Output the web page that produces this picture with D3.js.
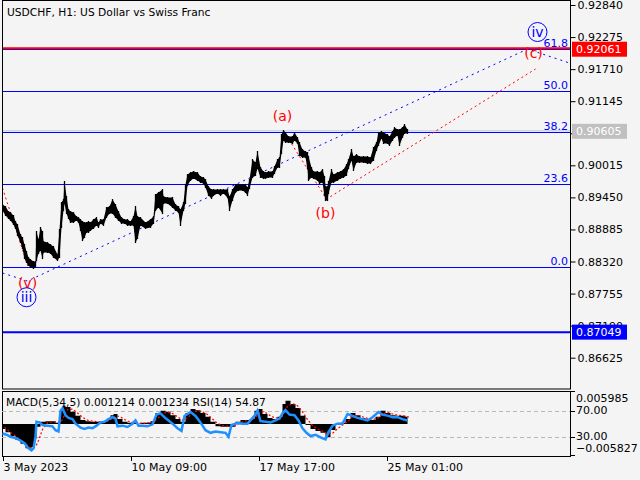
<!DOCTYPE html>
<html><head><meta charset="utf-8">
<script src="https://cdn.jsdelivr.net/npm/d3@7"></script>
<style>
html,body{margin:0;padding:0;background:#f4f4f4;}
svg{display:block;font-family:"DejaVu Sans",sans-serif;}
</style></head>
<body><svg id="c" width="640" height="480"></svg>
<script>
// ---------- DATA ----------
const title = "USDCHF, H1:  US Dollar vs Swiss Franc";
const indicatorLabel = "MACD(5,34,5) 0.001214 0.001234 RSI(14) 54.87";
const priceTicks = [0.92840,0.92275,0.91710,0.91145,0.90580,0.90015,0.89450,0.88885,0.88320,0.87755,0.87190,0.86625];
const timeTickBars = [0,128,256,384];
const timeTickLabels = ["3 May 2023","10 May 09:00","17 May 17:00","25 May 01:00"];

const priceBars = [0,3,6,8,11,13,15,18,20,22,24,26,28,31,33,34,36,38,40,41,45,48,51,55,57,59,61,62,64,66,68,71,74,76,78,80,82,84,86,88,91,94,96,98,101,104,107,110,113,116,119,122,125,128,131,133,135,138,143,148,151,153,156,160,161,165,170,173,176,178,181,183,185,188,191,195,198,201,203,206,209,211,215,218,221,225,227,230,233,236,240,243,245,247,250,253,255,258,261,263,266,270,272,275,277,279,281,283,286,290,292,295,297,300,303,305,306,309,311,315,317,320,322,323,325,326,329,331,335,338,341,344,346,349,351,354,357,361,365,368,371,374,376,379,381,385,387,390,392,395,397,400,402,405];
const priceHigh = [0.89315,0.89280,0.89192,0.89174,0.89121,0.89016,0.88963,0.88787,0.88734,0.88610,0.88487,0.88381,0.88346,0.88311,0.88311,0.88840,0.88698,0.88910,0.88840,0.88663,0.88646,0.88610,0.88575,0.88434,0.88875,0.89351,0.89403,0.89721,0.89456,0.89227,0.89192,0.89174,0.89104,0.89086,0.89051,0.89016,0.88998,0.88998,0.89016,0.88998,0.89051,0.89086,0.88998,0.89051,0.89051,0.89262,0.89280,0.89403,0.89315,0.89192,0.89086,0.89051,0.89051,0.89016,0.89104,0.89280,0.89104,0.89086,0.88998,0.89051,0.89104,0.89491,0.89527,0.89580,0.89456,0.89439,0.89439,0.89315,0.89280,0.89227,0.89351,0.89668,0.89844,0.89879,0.89897,0.89879,0.89809,0.89791,0.89756,0.89632,0.89580,0.89580,0.89580,0.89580,0.89580,0.89580,0.89456,0.89580,0.89668,0.89668,0.89668,0.89668,0.89615,0.89756,0.90108,0.90055,0.90250,0.89967,0.89897,0.89879,0.89897,0.89897,0.89985,0.90108,0.90144,0.90549,0.90619,0.90584,0.90514,0.90514,0.90584,0.90496,0.90408,0.90285,0.90250,0.90232,0.90161,0.89967,0.89897,0.89897,0.89879,0.89932,0.89809,0.89632,0.89632,0.89721,0.89932,0.89844,0.89879,0.89897,0.89932,0.90020,0.90108,0.90285,0.90161,0.90197,0.90161,0.90161,0.90161,0.90144,0.90320,0.90408,0.90584,0.90602,0.90584,0.90549,0.90514,0.90602,0.90672,0.90637,0.90637,0.90672,0.90725,0.90637];
const priceLow = [0.89227,0.89139,0.89086,0.89051,0.88980,0.88910,0.88787,0.88663,0.88558,0.88381,0.88311,0.88258,0.88223,0.88205,0.88240,0.88346,0.88469,0.88522,0.88381,0.88487,0.88487,0.88469,0.88399,0.88346,0.88399,0.88928,0.89227,0.89351,0.89174,0.89086,0.89016,0.89016,0.89051,0.89016,0.88875,0.88698,0.88751,0.88840,0.88840,0.88875,0.88910,0.88963,0.88928,0.88998,0.88963,0.89104,0.89174,0.89174,0.89104,0.89051,0.88998,0.88998,0.88963,0.88963,0.88963,0.88663,0.88734,0.88963,0.88910,0.88928,0.88998,0.89227,0.89280,0.89174,0.89351,0.89351,0.89280,0.89227,0.89192,0.88963,0.89227,0.89351,0.89668,0.89756,0.89791,0.89756,0.89721,0.89703,0.89632,0.89491,0.89439,0.89491,0.89527,0.89491,0.89527,0.89456,0.89227,0.89403,0.89544,0.89580,0.89580,0.89544,0.89491,0.89615,0.89809,0.89844,0.89967,0.89809,0.89791,0.89791,0.89809,0.89809,0.89879,0.89985,0.89985,0.90232,0.90461,0.90426,0.90426,0.90408,0.90461,0.90408,0.90197,0.90161,0.90161,0.89967,0.89756,0.89809,0.89791,0.89756,0.89703,0.89721,0.89491,0.89403,0.89403,0.89527,0.89721,0.89721,0.89756,0.89791,0.89809,0.89844,0.89967,0.90108,0.89932,0.90073,0.90073,0.90073,0.90055,0.90055,0.90108,0.90285,0.90373,0.90496,0.90408,0.90408,0.90373,0.90461,0.90514,0.90549,0.90373,0.90514,0.90584,0.90584];

const lastPrice = 0.90605;
const targetPrice = 0.92061;
const stopPrice = 0.87049;
const fibLevels = [0.0, 23.6, 38.2, 50.0, 61.8];
const fibStartPrice = 0.88223;
const fibEndPrice = 0.94433;

const waveBlueBars = [0, 25, 525, 570];
const waveBluePrices = [0.88117, 0.87976, 0.92064, 0.91800];
const waveRedABars = [0, 26];
const waveRedAPrices = [0.89615, 0.88205];
const waveRedBBars = [281, 324, 533];
const waveRedBPrices = [0.90619, 0.89421, 0.91712];

const labelText = ["(a)","(b)","(c)","(v)","iii","iv"];
const labelBars = [280, 323, 531, 25, 24, 535];
const labelPrices = [0.90884, 0.89174, 0.91994, 0.87950, 0.87690, 0.92364];
const labelCircled = [false,false,false,false,true,true];

const macdBars = [0,3,8,13,18,23,26,29,32,34,38,43,48,53,56,58,60,63,68,73,78,83,88,93,98,103,108,111,115,120,125,130,134,138,143,148,153,158,163,168,173,178,183,188,193,198,203,208,213,218,223,228,233,238,243,248,252,256,260,265,270,275,280,283,288,293,298,303,308,313,318,323,328,333,338,343,348,353,358,363,368,373,378,383,388,393,398,403,405];
const macdHist = [-0.0009,-0.0015,-0.0022,-0.0029,-0.0036,-0.0044,-0.0045,-0.0042,-0.0027,-0.0005,0.0004,0.0005,0.0005,0.0002,0.0004,0.0024,0.0033,0.0031,0.0022,0.0015,0.0007,0.0005,0.0004,0.0004,0.0004,0.0007,0.0016,0.0018,0.0009,0.0004,0.0002,0.0002,0.0000,0.0002,0.0002,0.0005,0.0020,0.0024,0.0022,0.0016,0.0009,0.0004,0.0020,0.0027,0.0025,0.0020,0.0013,0.0004,-0.0004,-0.0005,-0.0005,-0.0005,0.0004,0.0007,0.0007,0.0009,0.0024,0.0027,0.0018,0.0011,0.0009,0.0013,0.0036,0.0042,0.0036,0.0029,0.0015,-0.0002,-0.0009,-0.0013,-0.0016,-0.0024,-0.0011,-0.0002,0.0002,0.0009,0.0020,0.0016,0.0011,0.0009,0.0007,0.0013,0.0024,0.0020,0.0016,0.0015,0.0015,0.0013,0.0012];
const macdSignal = [-0.0006,-0.0011,-0.0018,-0.0025,-0.0032,-0.0039,-0.0043,-0.0044,-0.0038,-0.0030,-0.0010,0.0002,0.0004,0.0004,0.0003,0.0008,0.0016,0.0026,0.0027,0.0020,0.0012,0.0007,0.0005,0.0004,0.0004,0.0005,0.0010,0.0014,0.0014,0.0008,0.0004,0.0002,0.0001,0.0001,0.0002,0.0003,0.0010,0.0018,0.0022,0.0019,0.0013,0.0007,0.0011,0.0020,0.0024,0.0022,0.0017,0.0009,0.0001,-0.0003,-0.0004,-0.0005,-0.0001,0.0004,0.0006,0.0008,0.0014,0.0022,0.0022,0.0016,0.0011,0.0011,0.0022,0.0032,0.0037,0.0033,0.0022,0.0008,-0.0003,-0.0009,-0.0013,-0.0018,-0.0017,-0.0009,-0.0002,0.0004,0.0013,0.0016,0.0013,0.0010,0.0008,0.0010,0.0018,0.0021,0.0018,0.0016,0.0015,0.0013,0.0012];
const rsiBars = [0,4,8,13,18,22,26,29,31,33,34,37,40,45,50,53,56,58,60,63,66,70,73,78,82,86,90,94,98,102,106,110,113,115,120,125,130,133,136,140,145,150,154,158,162,166,170,175,179,182,188,193,198,203,208,213,218,223,226,229,235,240,245,249,253,255,258,263,268,273,277,280,283,287,292,296,300,304,308,313,318,323,326,330,335,340,345,350,355,360,365,370,376,380,386,390,395,400,405];
const rsiValues = [35,33,30,28,24,20,12,9,12,30,53,52,48,47,46,40,38,70,74,63,59,57,50,44,42,44,43,47,52,53,57,60,58,46,47,45,50,55,47,47,46,49,64,66,60,55,50,43,39,62,68,62,52,40,36,38,37,36,30,48,51,50,50,57,64,70,54,53,52,55,58,66,71,64,63,55,43,36,31,33,29,26,37,47,50,50,65,62,59,57,55,60,68,64,62,60,60,57,55];
const macdMax = 0.005985, macdMin = -0.005827;
const rsiLevels = [70, 30];

// ---------- LAYOUT ----------
const L = 2, R = 570, mainTop = 0, mainBot = 389, subTop = 391, subBot = 456;
const svg = d3.select("#c");
const x = d3.scaleLinear().domain([0, 128]).range([2.5, 130.5]);
const y = d3.scaleLinear().domain([0.86625, 0.92840]).range([357.7, 5]);
const yM = d3.scaleLinear().domain([macdMin, macdMax]).range([subBot, subTop]);
const yR = d3.scaleLinear().domain([0, 100]).range([456.2, 391.2]);

const defs = svg.append("defs");
defs.append("clipPath").attr("id","cm").append("rect").attr("x",L).attr("y",mainTop).attr("width",R-L).attr("height",mainBot-mainTop);
defs.append("clipPath").attr("id","cs").append("rect").attr("x",L).attr("y",subTop).attr("width",R-L).attr("height",subBot-subTop);

const gm = svg.append("g").attr("clip-path","url(#cm)");
const blue = "#0000ff", red = "#ff0000";

// fib lines
const fibPrice = lv => fibStartPrice + (fibEndPrice - fibStartPrice) * lv / 100;
gm.selectAll("line.fib").data(fibLevels).join("line")
  .attr("x1",L).attr("x2",R).attr("y1",d=>Math.round(y(fibPrice(d)))+0.5).attr("y2",d=>Math.round(y(fibPrice(d)))+0.5)
  .attr("stroke",blue).attr("stroke-width",1);
gm.selectAll("text.fib").data(fibLevels).join("text")
  .attr("x",R-2).attr("y",d=>Math.round(y(fibPrice(d)))-2).attr("text-anchor","end")
  .attr("font-size","11px").attr("fill",blue).text(d=>d.toFixed(1));

// target (red) and stop (blue) lines
gm.append("line").attr("x1",L).attr("x2",R).attr("y1",y(targetPrice)-1).attr("y2",y(targetPrice)-1)
  .attr("stroke",red).attr("stroke-width",2);
gm.append("line").attr("x1",L).attr("x2",R).attr("y1",y(stopPrice)-1.5).attr("y2",y(stopPrice)-1.5)
  .attr("stroke",blue).attr("stroke-width",2);
// last price line
gm.append("line").attr("x1",L).attr("x2",R).attr("y1",y(lastPrice)-1).attr("y2",y(lastPrice)-1)
  .attr("stroke","#b4c4ec").attr("stroke-width",1);

// wave lines
const wline = d3.line().x(d=>x(d[0])).y(d=>y(d[1]));
gm.append("path").attr("d",wline(d3.zip(waveBlueBars,waveBluePrices))).attr("fill","none")
  .attr("stroke",blue).attr("stroke-width",1).attr("stroke-dasharray","2,4");
gm.append("path").attr("d",wline(d3.zip(waveRedABars,waveRedAPrices))).attr("fill","none")
  .attr("stroke",red).attr("stroke-width",1).attr("stroke-dasharray","2,3");
gm.append("path").attr("d",wline(d3.zip(waveRedBBars,waveRedBPrices))).attr("fill","none")
  .attr("stroke",red).attr("stroke-width",1).attr("stroke-dasharray","2,3");

// price
const idx = d3.range(priceBars.length);
gm.append("path").attr("d", d3.area().x(i=>x(priceBars[i])).y0(i=>y(priceLow[i])+0.5).y1(i=>y(priceHigh[i])-0.5)(idx))
  .attr("fill","#000");
gm.selectAll("line.bar").data(idx).join("line")
  .attr("x1",i=>x(priceBars[i])).attr("x2",i=>x(priceBars[i]))
  .attr("y1",i=>y(priceHigh[i])-1).attr("y2",i=>y(priceLow[i])+1)
  .attr("stroke","#000").attr("stroke-width",1.3);

// wave labels
labelText.forEach((t,i)=>{
  const cx = x(labelBars[i]), cy = y(labelPrices[i]);
  const c = labelCircled[i] ? blue : red;
  if (labelCircled[i]) gm.append("circle").attr("cx",cx).attr("cy",cy).attr("r",9.5).attr("fill","none").attr("stroke",blue).attr("stroke-width",1);
  gm.append("text").attr("x",cx).attr("y",cy+5).attr("text-anchor","middle")
    .attr("font-size","14px").attr("fill",c).text(t);
});

// title
svg.append("text").attr("x",7).attr("y",16).attr("font-size","10.7px").attr("fill","#000").text(title);

// borders
svg.append("rect").attr("x",L+0.5).attr("y",0.5).attr("width",R-L).attr("height",mainBot-0.5).attr("fill","none").attr("stroke","#000");
svg.append("rect").attr("x",L+0.5).attr("y",subTop+0.5).attr("width",R-L).attr("height",subBot-subTop).attr("fill","none").attr("stroke","#000");

// price axis (the tick hidden under the last-price box gets no label)
const ax = svg.append("g").attr("transform",`translate(${R+0.5},0)`)
  .call(d3.axisRight(y).tickValues(priceTicks).tickSize(5).tickSizeOuter(0).tickPadding(2)
    .tickFormat(d => Math.abs(d - lastPrice) < 0.0004 ? "" : d3.format(".5f")(d)));
ax.select(".domain").remove();
ax.selectAll("text").attr("font-size","11px").attr("font-family","DejaVu Sans").attr("fill","#000");
ax.selectAll("line").attr("stroke","#000");

// price boxes
function box(price, bg, txt, dy){
  const cy = y(price) + dy;
  svg.append("rect").attr("x",572).attr("y",cy-7.5).attr("width",55).attr("height",15).attr("fill",bg);
  svg.append("text").attr("x",576).attr("y",cy+4).attr("font-size","11px").attr("fill","#fff").text(txt);
}
box(targetPrice, red, d3.format(".5f")(targetPrice), 0);
box(lastPrice, "#c0c0c0", d3.format(".5f")(lastPrice), -0.5);
box(stopPrice, blue, d3.format(".5f")(stopPrice), -1.5);

// ---------- SUB PANEL ----------
const gs = svg.append("g").attr("clip-path","url(#cs)");
gs.selectAll("line.lv").data(rsiLevels).join("line")
  .attr("x1",L).attr("x2",R).attr("y1",d=>Math.round(yR(d))+0.5).attr("y2",d=>Math.round(yR(d))+0.5)
  .attr("stroke","#b8b8b8").attr("stroke-dasharray","4,3");
const mi = d3.range(macdBars.length);
gs.append("path").attr("d", d3.area().x(i=>x(macdBars[i])).y0(yM(0)).y1(i=>yM(macdHist[i])).curve(d3.curveStepAfter)(mi))
  .attr("fill","#000");
gs.append("path").attr("d", d3.line().x(i=>x(macdBars[i])+2).y(i=>yM(macdSignal[i]))(mi))
  .attr("fill","none").attr("stroke",red).attr("stroke-width",1.2).attr("stroke-dasharray","2,2");
const ri = d3.range(rsiBars.length);
gs.append("path").attr("d", d3.line().x(i=>x(rsiBars[i])).y(i=>yR(rsiValues[i]))(ri))
  .attr("fill","none").attr("stroke","#1e90ff").attr("stroke-width",2.5);

svg.append("text").attr("x",6).attr("y",406).attr("font-size","10.7px").attr("fill","#000").text(indicatorLabel);

// sub axis
const subTicks = [[subTop+0.5, d3.format(".6f")(macdMax), 402],[Math.round(yR(70))+0.5,"70.00",414],[Math.round(yR(30))+0.5,"30.00",440],[subBot-0.5, d3.format(".6f")(macdMin), 452]];
subTicks.forEach(t=>{
  svg.append("line").attr("x1",R).attr("x2",R+5).attr("y1",t[0]).attr("y2",t[0]).attr("stroke","#000");
  svg.append("text").attr("x",R+6).attr("y",t[2]).attr("font-size","11px").attr("fill","#000").text(t[1]);
});

// time axis
timeTickBars.forEach((b,i)=>{
  const tx = Math.round(x(b))+0.5;
  svg.append("line").attr("x1",tx).attr("x2",tx).attr("y1",subBot).attr("y2",subBot+5).attr("stroke","#000");
  svg.append("text").attr("x",tx).attr("y",471).attr("font-size","11px").attr("fill","#000").text(timeTickLabels[i]);
});
</script></body></html>
